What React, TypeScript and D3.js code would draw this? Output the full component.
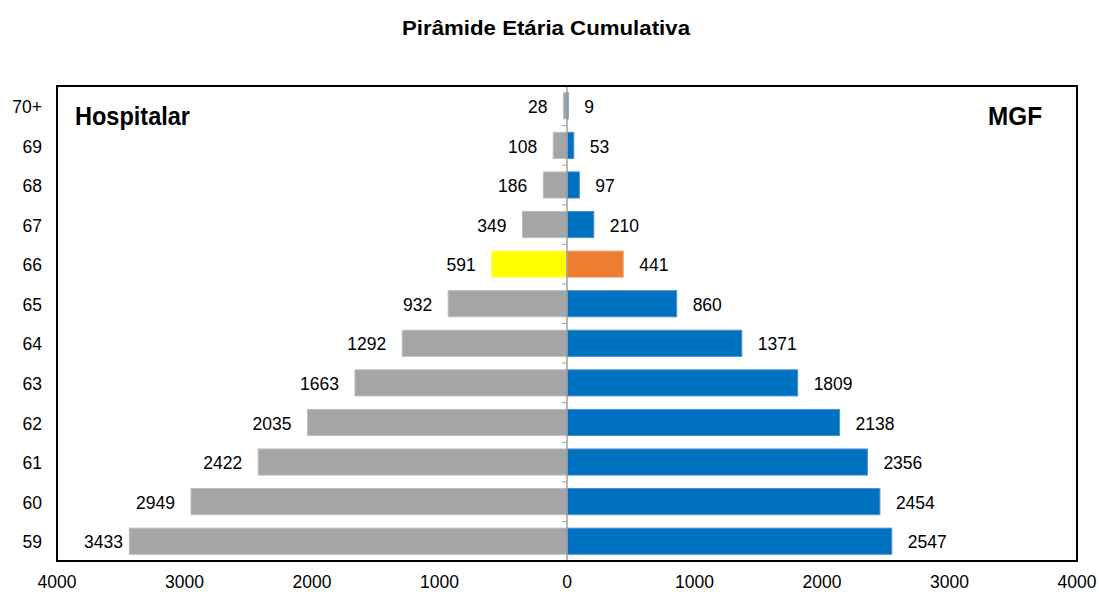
import * as d3 from "d3";
import React from "react";

const ages = ["70+", "69", "68", "67", "66", "65", "64", "63", "62", "61", "60", "59"];
const hospitalar = [28, 108, 186, 349, 591, 932, 1292, 1663, 2035, 2422, 2949, 3433];
const mgf = [9, 53, 97, 210, 441, 860, 1371, 1809, 2138, 2356, 2454, 2547];
const xTicks = [-4000, -3000, -2000, -1000, 0, 1000, 2000, 3000, 4000];
const highlight = "66";

export default function App() {
  const width = 1099;
  const height = 592;
  const left = 57, right = 1077, top = 86, bottom = 561;
  const font = "'Liberation Sans', Arial, sans-serif";

  const x = d3.scaleLinear([-4000, 4000], [left, right]);
  const y = d3.scaleBand(ages, [top, bottom]).paddingInner(0.34).paddingOuter(0.17);
  const step = y.step();
  const x0 = x(0);

  const leftFill = (a) => (a === highlight ? "#FFFF00" : "#A5A5A5");
  const leftStroke = (a) => (a === highlight ? "#FFFF66" : "#BDBDBD");
  const rightFill = (a) => (a === highlight ? "#ED7D31" : "#0070C0");
  const rightStroke = (a) => (a === highlight ? "#F4A070" : "#4A90D0");

  return (
    <div style={{ position: "absolute", left: 0, top: 0 }}>
      <svg width={width} height={height} style={{ display: "block", fontFamily: font }}>
        <rect width={width} height={height} fill="#fff" />
        <text x={546} y={35} textAnchor="middle" fontSize={21} fontWeight="bold" fill="#000"
          textLength={288} lengthAdjust="spacingAndGlyphs">
          Pirâmide Etária Cumulativa
        </text>

        {/* bars */}
        {ages.map((a, i) => (
          <g key={a}>
            <rect x={x(-hospitalar[i])} y={y(a)} width={x0 - x(-hospitalar[i])} height={y.bandwidth()}
              fill={leftFill(a)} stroke={leftStroke(a)} strokeWidth={1} />
            <rect x={x0} y={y(a)} width={x(mgf[i]) - x0} height={y.bandwidth()}
              fill={rightFill(a)} stroke={rightStroke(a)} strokeWidth={1} />
          </g>
        ))}

        {/* centre axis with ticks */}
        <line x1={x0} x2={x0} y1={top} y2={bottom} stroke="#A0A0A0" strokeWidth={1.5} />
        {d3.range(ages.length + 1).map((i) => (
          <line key={i} x1={x0 - 5} x2={x0} y1={top + i * step} y2={top + i * step} stroke="#A0A0A0" strokeWidth={1} />
        ))}

        {/* value labels */}
        {ages.map((a, i) => (
          <g key={"l" + a} fontSize={17.5} fill="#000">
            <text x={Math.max(x(-hospitalar[i]) - 16, left + 66)} y={y(a) + y.bandwidth() / 2 + 1} dy="0.35em" textAnchor="end">
              {hospitalar[i]}
            </text>
            <text x={x(mgf[i]) + 16} y={y(a) + y.bandwidth() / 2 + 1} dy="0.35em" textAnchor="start">
              {mgf[i]}
            </text>
          </g>
        ))}

        {/* category labels */}
        {ages.map((a) => (
          <text key={"c" + a} x={42} y={y(a) + y.bandwidth() / 2 + 1} dy="0.35em" textAnchor="end" fontSize={17.5} fill="#000">
            {a}
          </text>
        ))}

        {/* x tick labels */}
        {xTicks.map((t) => (
          <text key={t} x={x(t)} y={582} dy="0.35em" textAnchor="middle" fontSize={17.5} fill="#000">
            {Math.abs(t)}
          </text>
        ))}

        {/* plot frame */}
        <rect x={left} y={top} width={right - left} height={bottom - top} fill="none" stroke="#000" strokeWidth={2} />

        <text x={75} y={125} fontSize={25} fontWeight="bold" fill="#000" textLength={115} lengthAdjust="spacingAndGlyphs">Hospitalar</text>
        <text x={1042} y={125} fontSize={25} fontWeight="bold" fill="#000" textAnchor="end" textLength={54} lengthAdjust="spacingAndGlyphs">MGF</text>
      </svg>
    </div>
  );
}
